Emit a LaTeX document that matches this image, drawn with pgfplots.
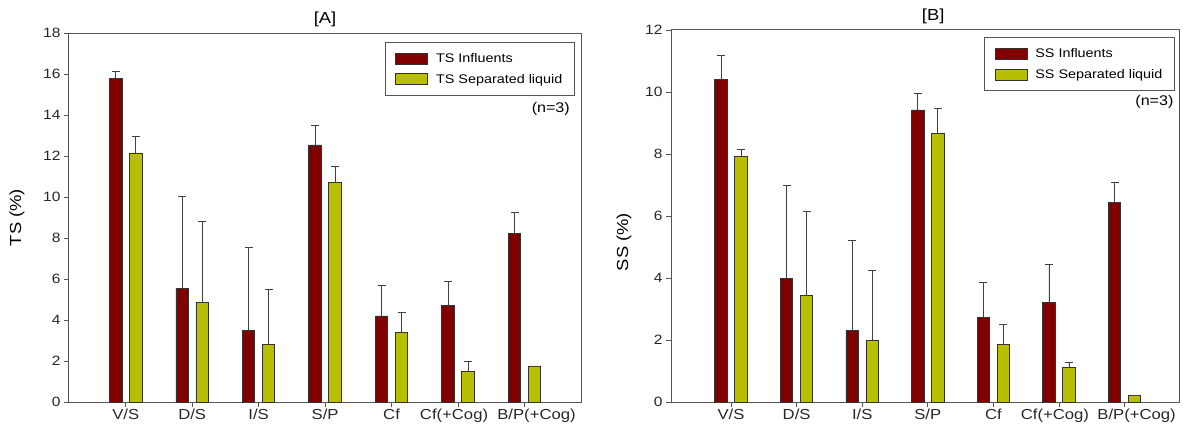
\documentclass[border=0pt]{standalone}
\usepackage{fontspec}
\setmainfont{Liberation Sans}[FakeStretch=1.15]
\usepackage{pgfplots}
\pgfplotsset{compat=1.18}
\usepackage{pgfplotstable}
\definecolor{infl}{HTML}{800000}
\definecolor{sepl}{HTML}{B8BE00}
\definecolor{axgray}{HTML}{555555}

\pgfplotstableread{
x  ti     tie   sl     sle
0  15.80  0.31  12.15  0.81
1  5.54   4.51  4.84   3.99
2  3.50   4.02  2.80   2.70
3  12.54  0.93  10.73  0.75
4  4.20   1.47  3.39   0.96
5  4.69   1.17  1.51   0.48
6  8.22   1.01  1.76   0.00
}\tsdata

\pgfplotstableread{
x  si     sie   sl     sle
0  10.41  0.76  7.93   0.22
1  4.00   2.98  3.44   2.70
2  2.31   2.89  1.99   2.27
3  9.42   0.53  8.65   0.82
4  2.74   1.11  1.87   0.64
5  3.22   1.21  1.12   0.17
6  6.44   0.66  0.22   0.00
}\ssdata

\pgfplotsset{
  panel/.style={
    scale only axis,
    anchor=south west,
    ybar,
    ymin=0,
    xtick={0,...,6},
    xticklabels={V/S,D/S,I/S,S/P,Cf,Cf(+Cog)\hspace*{8pt},\hspace*{24pt}B/P(+Cog)},
    tick align=outside,
    xtick pos=bottom, ytick pos=left,
    major tick length=5pt,
    tick style={axgray, line width=0.8pt},
    axis line style={axgray, line width=1pt},
    /pgf/number format/assume math mode=true,
    y tick label style={font=\fontsize{13.5}{15}\selectfont, text=black!85},
    x tick label style={font=\fontsize{14.5}{16}\selectfont, text=black!85, inner sep=2pt},
    title style={font=\fontsize{16}{18}\selectfont, anchor=south, yshift=-3pt},
    ylabel style={font=\fontsize{16}{18}\selectfont, anchor=center},
    legend cell align=left,
    legend style={draw=axgray, line width=1pt, anchor=north east,
      font=\fontsize{12.5}{14}\selectfont, inner xsep=10pt, inner ysep=9pt,
      row sep=6pt},
    error bars/y dir=plus,
    error bars/y explicit,
    error bars/error mark=|,
    error bars/error bar style={black!75, line width=0.8pt},
    error bars/error mark options={black!75, line width=0.8pt, mark size=4pt},
  },
  barimg/.style={legend image code/.code={\draw[##1] (0pt,-5.5pt) rectangle (32pt,5.5pt); \path (38pt,0pt);}},
}

\begin{document}
\begin{tikzpicture}
\useasboundingbox (0,0) rectangle (1184pt,429pt);

\begin{axis}[panel,
  at={(69pt,27pt)}, width=512pt, height=369pt,
  ymax=18, ytick={0,2,...,18},
  xmin=-0.853, xmax=6.85,
  title={[A]}, title style={at={(0.5,1)}},
  ylabel={TS (\%)}, ylabel style={at={(axis description cs:-0.1016,0.5)}},
  legend style={at={(0.988,0.9756)}},
]
\addplot[barimg, fill=infl, draw=black!80, line width=0.8pt, bar width=12.5pt, bar shift=-10pt]
  table[x=x, y=ti, y error=tie] {\tsdata};
\addlegendentry{TS Influents}
\addplot[barimg, fill=sepl, draw=black!80, line width=0.8pt, bar width=12.5pt, bar shift=10pt]
  table[x=x, y=sl, y error=sle] {\tsdata};
\addlegendentry{TS Separated liquid}
\node[anchor=east, font=\fontsize{14}{16}\selectfont] at (rel axis cs:0.985,0.794) {(n=3)};
\end{axis}

\begin{axis}[panel,
  at={(671pt,27pt)}, width=508pt, height=372pt,
  ymax=12, ytick={0,2,...,12},
  xmin=-0.915, xmax=6.83,
  title={[B]}, title style={at={(0.516,1)}},
  ylabel={SS (\%)}, ylabel style={at={(axis description cs:-0.0925,0.43)}},
  legend style={at={(0.992,0.981)}},
]
\addplot[barimg, fill=infl, draw=black!80, line width=0.8pt, bar width=12.5pt, bar shift=-10pt]
  table[x=x, y=si, y error=sie] {\ssdata};
\addlegendentry{SS Influents}
\addplot[barimg, fill=sepl, draw=black!80, line width=0.8pt, bar width=12.5pt, bar shift=10pt]
  table[x=x, y=sl, y error=sle] {\ssdata};
\addlegendentry{SS Separated liquid}
\node[anchor=east, font=\fontsize{14}{16}\selectfont] at (rel axis cs:0.996,0.806) {(n=3)};
\end{axis}
\end{tikzpicture}
\end{document}
